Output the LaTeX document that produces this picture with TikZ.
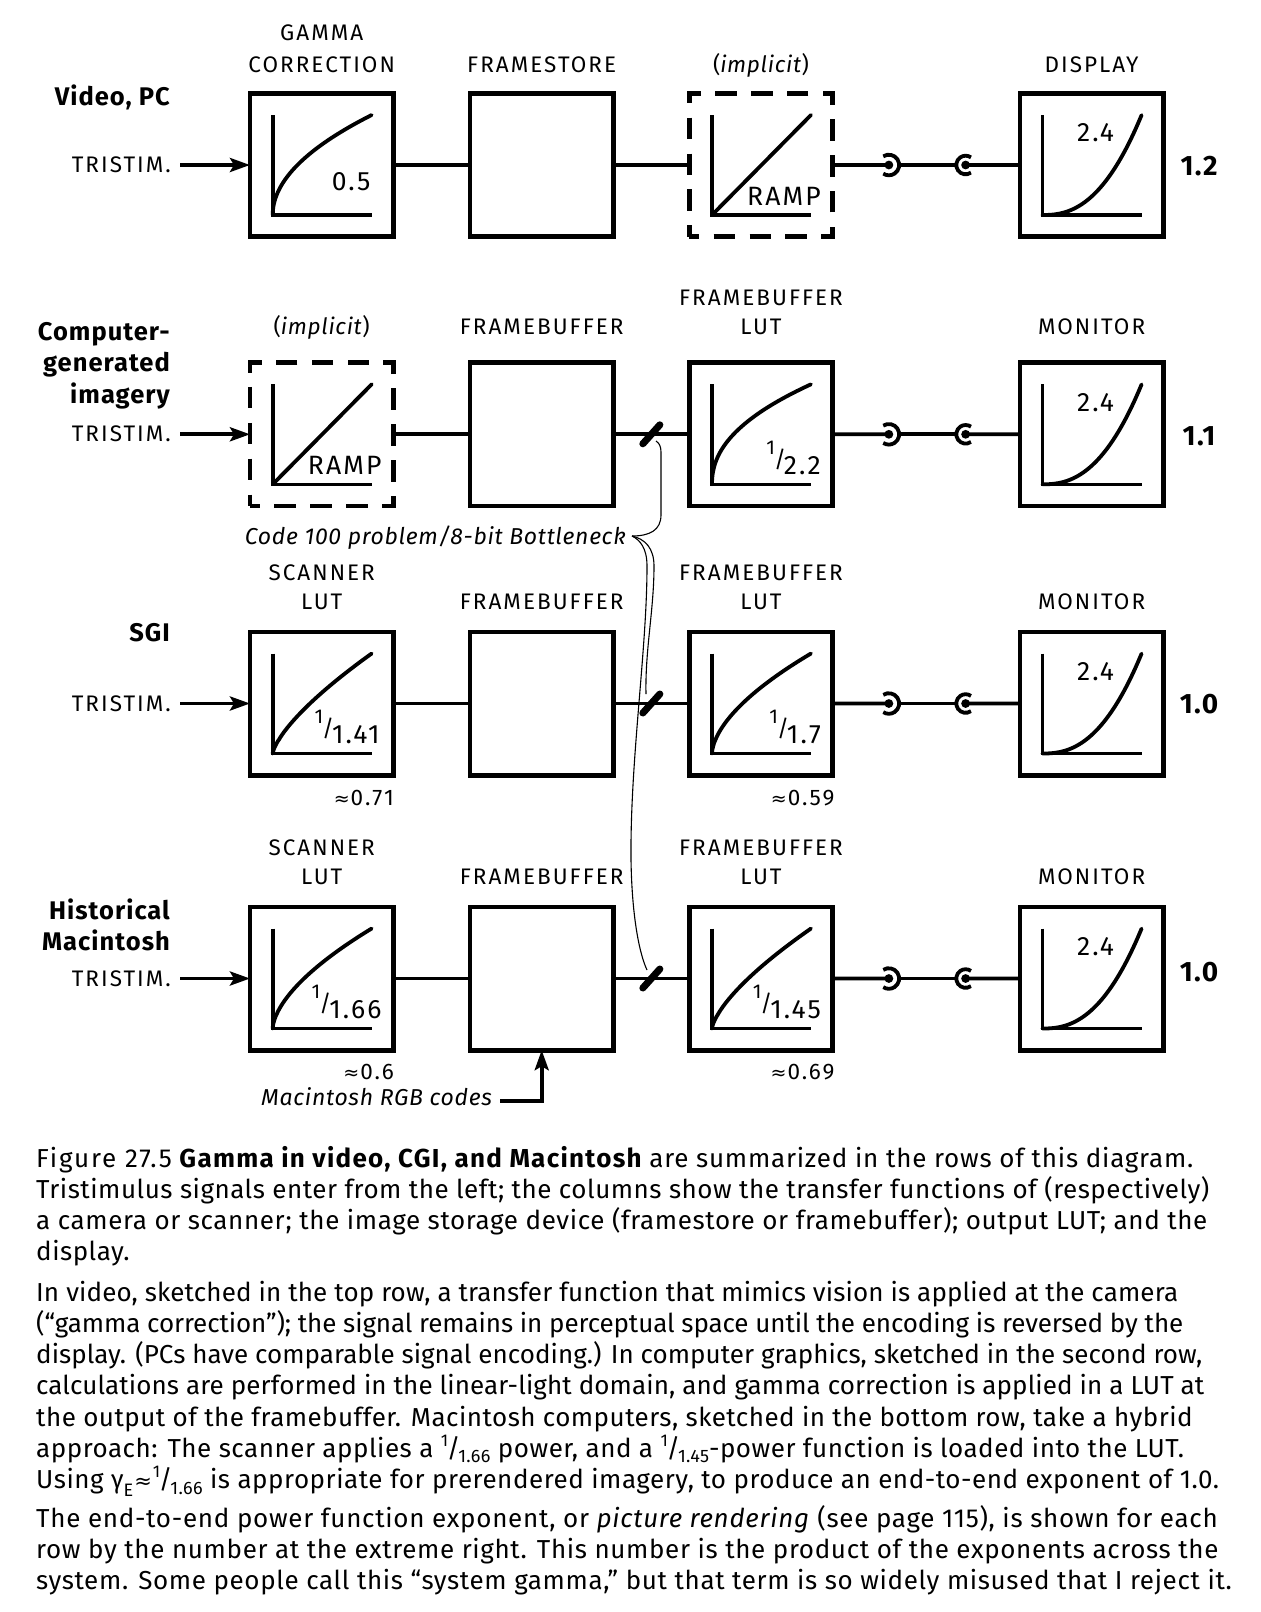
\documentclass[tikz,border=0pt]{standalone}
\usepackage{fontspec}
\setmainfont{Fira Sans}
\newfontfamily\symfont{DejaVu Sans}
\usetikzlibrary{arrows.meta,calc}
\newcommand*\xcA{321.7}
\newcommand*\xcB{541.7}
\newcommand*\xcC{761}
\newcommand*\xcD{1091.6}
\newcommand*\yrA{165}
\newcommand*\yrB{434.3}
\newcommand*\yrC{703.5}
\newcommand*\yrD{978.5}
\newcommand\boxfrac[2]{\raisebox{20pt}{\fontsize{20}{20}\selectfont #1}\kern-1pt\raisebox{7pt}{\fontsize{23}{23}\selectfont /}\kern-2pt{#2}}
\newcommand\tfr[2]{\raisebox{.42em}{\fontsize{17}{17}\selectfont #1}\kern-.05em/\kern-.08em\raisebox{-.2em}{\fontsize{18}{18}\selectfont #2}}
\newcommand\apx{{\symfont\fontsize{19}{19}\selectfont ≈}\kern1pt}
\newcommand\imp{{\addfontfeatures{LetterSpace=3}(\textit{implicit})}}
\newcommand\rootcurve[1]{\draw[crv] (-49,50) -- plot[domain=0.003:1,samples=60,smooth] ({-49+99*pow(\x,#1)},{50-100*\x});}
\newcommand\powcurve[1]{\draw[crv] (-49,50) -- plot[domain=0.003:1,samples=60,smooth] ({-49+99*\x},{50-100*pow(\x,#1)});}
\newcommand\axes{\draw[ax] (-49,-50) -- (-49,50) -- (50,50);}
\begin{document}
\begin{tikzpicture}[x=1pt,y=-1pt,
 box/.style={draw, line width=4.6pt, minimum width=143.4pt, minimum height=143.4pt, inner sep=0pt, outer sep=0pt},
 dbox/.style={box, dash pattern=on 21.5pt off 14.35pt, dash phase=11.5pt},
 conn/.style={line width=3.8pt},
 ax/.style={line width=3.6pt},
 crv/.style={line width=3.8pt, line cap=round},
 lab/.style={font=\fontsize{22.5}{27}\selectfont\addfontfeatures{LetterSpace=9}, inner sep=0pt, anchor=base},
 inb/.style={font=\fontsize{26.5}{30}\selectfont\addfontfeatures{LetterSpace=8}, inner sep=0pt},
 rowlab/.style={font=\fontsize{25.5}{30}\selectfont\bfseries\addfontfeatures{LetterSpace=4}, inner sep=0pt, anchor=base east},
 res/.style={font=\fontsize{28}{30}\selectfont\bfseries\addfontfeatures{LetterSpace=5}, inner sep=0pt, anchor=base},
 itlab/.style={font=\fontsize{23}{27}\selectfont\itshape\addfontfeatures{LetterSpace=3}, inner sep=0pt},
 captxt/.style={font=\fontsize{26}{31}\selectfont\addfontfeatures{LetterSpace=#1}, inner sep=0pt, anchor=base west},
 captxt/.default=2,
 arr/.style={conn, -{Stealth[length=20pt,width=14pt,inset=4pt]}},
 tickmark/.style={line width=7pt, line cap=round},
 thinline/.style={line width=1.1pt},
]
\fill[white] (0,0) rectangle (1261,1612);
\useasboundingbox (0,0) rectangle (1261,1612);

% ---------- boxes ----------
\node[box]  (b11) at (\xcA,\yrA) {};
\node[box]  (b12) at (\xcB,\yrA) {};
\node[dbox] (b13) at (\xcC,\yrA) {};
\node[box]  (b14) at (\xcD,\yrA) {};
\node[dbox] (b21) at (\xcA,\yrB) {};
\node[box]  (b22) at (\xcB,\yrB) {};
\node[box]  (b23) at (\xcC,\yrB) {};
\node[box]  (b24) at (\xcD,\yrB) {};
\node[box]  (b31) at (\xcA,\yrC) {};
\node[box]  (b32) at (\xcB,\yrC) {};
\node[box]  (b33) at (\xcC,\yrC) {};
\node[box]  (b34) at (\xcD,\yrC) {};
\node[box]  (b41) at (\xcA,\yrD) {};
\node[box]  (b42) at (\xcB,\yrD) {};
\node[box]  (b43) at (\xcC,\yrD) {};
\node[box]  (b44) at (\xcD,\yrD) {};

% ---------- box contents ----------
\begin{scope}[shift={(b11.center)}]\axes\rootcurve{2}
 \node[inb,anchor=base east] (v11) at (49,25) {0.5};\end{scope}
\begin{scope}[shift={(b13.center)}]\axes\draw[crv] (-49,50) -- (50,-50);
 \node[inb,anchor=base] (v13) at (23,40) {RAMP};\end{scope}
\begin{scope}[shift={(b21.center)}]\axes\draw[crv] (-49,50) -- (50,-50);
 \node[inb,anchor=base] (v21) at (23,40) {RAMP};\end{scope}
\begin{scope}[shift={(b23.center)}]\axes\rootcurve{2.2}
 \node[inb,anchor=base east] (v23) at (60,40) {\boxfrac{1}{2.2}};\end{scope}
\begin{scope}[shift={(b31.center)}]\axes\rootcurve{1.41}
 \node[inb,anchor=base east] (v31) at (58,40) {\boxfrac{1}{1.41}};\end{scope}
\begin{scope}[shift={(b33.center)}]\axes\rootcurve{1.7}
 \node[inb,anchor=base east] (v33) at (60,40) {\boxfrac{1}{1.7}};\end{scope}
\begin{scope}[shift={(b41.center)}]\axes\rootcurve{1.66}
 \node[inb,anchor=base east] (v41) at (60,40) {\boxfrac{1}{1.66}};\end{scope}
\begin{scope}[shift={(b43.center)}]\axes\rootcurve{1.45}
 \node[inb,anchor=base east] (v43) at (60,40) {\boxfrac{1}{1.45}};\end{scope}
\foreach \r in {1,2,3,4}{
 \begin{scope}[shift={(b\r4.center)}]\axes\powcurve{2.4}
 \node[inb,anchor=base] (v\r4) at (4,-23.3) {2.4};\end{scope}}

% ---------- column labels ----------
\node[lab] (l11a) at (\xcA,40.5) {GAMMA};
\node[lab] (l11b) at (\xcA,72) {CORRECTION};
\node[lab] (l12) at (\xcB,72) {FRAMESTORE};
\node[lab] (l13) at (\xcC,72) {\imp};
\node[lab] (l14) at (\xcD,72) {DISPLAY};
\node[lab] (l21) at (\xcA,334.5) {\imp};
\node[lab] (l22) at (\xcB,334.5) {FRAMEBUFFER};
\node[lab] (l23a) at (\xcC,305.5) {FRAMEBUFFER};
\node[lab] (l23b) at (\xcC,334.5) {LUT};
\node[lab] (l24) at (\xcD,334.5) {MONITOR};
\node[lab] (l31a) at (\xcA,580.5) {SCANNER};
\node[lab] (l31b) at (\xcA,609) {LUT};
\node[lab] (l32) at (\xcB,609) {FRAMEBUFFER};
\node[lab] (l33a) at (\xcC,580.5) {FRAMEBUFFER};
\node[lab] (l33b) at (\xcC,609) {LUT};
\node[lab] (l34) at (\xcD,609) {MONITOR};
\node[lab] (l41a) at (\xcA,855.5) {SCANNER};
\node[lab] (l41b) at (\xcA,884.5) {LUT};
\node[lab] (l42) at (\xcB,884.5) {FRAMEBUFFER};
\node[lab] (l43a) at (\xcC,855.5) {FRAMEBUFFER};
\node[lab] (l43b) at (\xcC,884.5) {LUT};
\node[lab] (l44) at (\xcD,884.5) {MONITOR};

% ---------- row labels ----------
\node[rowlab] (rl1) at (170,105.5) {Video, PC};
\node[rowlab] (rl2a) at (170,340.7) {Computer-};
\node[rowlab] (rl2b) at (170,371.7) {generated};
\node[rowlab] (rl2c) at (170,403.3) {imagery};
\node[rowlab] (rl3) at (170,641.7) {SGI};
\node[rowlab] (rl4a) at (170,919.3) {Historical};
\node[rowlab] (rl4b) at (170,950.7) {Macintosh};
\node[lab,anchor=base east] (tr1) at (171,\yrA+7.5) {TRISTIM.};
\node[lab,anchor=base east] (tr2) at (171,\yrB+7.5) {TRISTIM.};
\node[lab,anchor=base east] (tr3) at (171,\yrC+7.5) {TRISTIM.};
\node[lab,anchor=base east] (tr4) at (171,\yrD+7.5) {TRISTIM.};

% ---------- results ----------
\node[res] (e1) at (1199,175) {1.2};
\node[res] (e2) at (1199,445) {1.1};
\node[res] (e3) at (1199,713.3) {1.0};
\node[res] (e4) at (1199,981.7) {1.0};

% ---------- approx values ----------
\node[lab,anchor=base east] (a31) at (394,805) {\apx0.71};
\node[lab,anchor=base east] (a33) at (834.7,805) {\apx0.59};
\node[lab,anchor=base east] (a41) at (394,1079.3) {\apx0.6};
\node[lab,anchor=base east] (a43) at (834.7,1079.3) {\apx0.69};

% ---------- connections ----------
\foreach \r in {1,2,3,4}{
 \draw[arr] ($(tr\r.east |- b\r1.west)+(9,0)$) -- (b\r1.west);
 \draw[conn] (b\r1.east) -- (b\r2.west);
 \draw[conn] (b\r2.east) -- (b\r3.west);
 \coordinate (p\r a) at ($(b\r3.east)!0.3!(b\r4.west)$);
 \coordinate (p\r b) at ($(b\r3.east)!0.71!(b\r4.west)$);
 \draw[conn] (b\r3.east) -- (p\r a);
 \fill (p\r a) circle (4.4);
 \draw[conn] ([shift={(-123:10.3)}]p\r a) arc[start angle=-123, end angle=123, radius=10.3];
 \draw[conn] ([xshift=10.3pt]p\r a) -- ([xshift=-9.3pt]p\r b);
 \fill (p\r b) circle (4.4);
 \draw[conn] ([shift={(55:9.3)}]p\r b) arc[start angle=55, end angle=305, radius=9.3];
 \draw[conn] (p\r b) -- (b\r4.west);
}
\foreach \r in {2,3,4}{
 \coordinate (t\r) at ($(b\r2.east)!0.5!(b\r3.west)$);
 \draw[tickmark] ($(t\r)+(-8.5,9.5)$) -- ($(t\r)+(8.5,-9.5)$);
}

% ---------- bottleneck note ----------
\node[itlab,anchor=base east] (code) at (626,544) {Code 100 problem/8-bit Bottleneck};
\coordinate (tip) at (632,536);
\draw[thinline] (tip) .. controls (650,536) and (661,530) .. (661,515) -- (661,452) .. controls (661,446) and (659,443) .. (656,441);
\draw[thinline] (tip) .. controls (645,539) and (654,548) .. (654,566) .. controls (654,610) and (645,650) .. (646,694);
\draw[thinline] (tip) .. controls (640,540) and (647,548) .. (647,566) .. controls (647,650) and (630,760) .. (631,860) .. controls (632,920) and (640,955) .. (647,970);

% ---------- Macintosh RGB codes ----------
\node[itlab,anchor=base west] (mac) at (261,1105) {Macintosh RGB codes};
\draw[arr] ($(mac.base east)+(8,-4.3)$) -| (b42.south);

% ---------- caption ----------
\node[captxt=3] (c1) at (36,1167) {{\addfontfeatures{LetterSpace=7}Figure 27.5} {\bfseries\addfontfeatures{LetterSpace=5}Gamma in video, CGI, and Macintosh} are summarized in the rows of this diagram.};
\node[captxt] (c2) at (36,1198.3) {Tristimulus signals enter from the left; the columns show the transfer functions of (respectively)};
\node[captxt=2.4] (c3) at (36,1229.6) {a camera or scanner; the image storage device (framestore or framebuffer); output LUT; and the};
\node[captxt] (c4) at (36,1260.9) {display.};
\node[captxt=0.5] (c5) at (36,1301) {In video, sketched in the top row, a transfer function that mimics vision is applied at the camera};
\node[captxt=-0.4] (c6) at (36,1332.3) {(“gamma correction”); the signal remains in perceptual space until the encoding is reversed by the};
\node[captxt=0.15] (c7) at (36,1363.6) {display. (PCs have comparable signal encoding.) In computer graphics, sketched in the second row,};
\node[captxt=0.4] (c8) at (36,1394.9) {calculations are performed in the linear-light domain, and gamma correction is applied in a LUT at};
\node[captxt=1.8] (c9) at (36,1426.2) {the output of the framebuffer. Macintosh computers, sketched in the bottom row, take a hybrid};
\node[captxt] (c10) at (36,1457.5) {approach: The scanner applies a \tfr{1}{1.66} power, and a \tfr{1}{1.45}-power function is loaded into the LUT.};
\node[captxt=2.1] (c11) at (36,1488.8) {Using γ\raisebox{-.3em}{\fontsize{18}{18}\selectfont E}\kern1pt{\symfont\fontsize{21}{21}\selectfont ≈}\kern1pt\tfr{1}{1.66} is appropriate for prerendered imagery, to produce an end-to-end exponent of 1.0.};
\node[captxt=2.75] (c12) at (36,1527) {The end-to-end power function exponent, or \textit{picture rendering} (see page 115), is shown for each};
\node[captxt=2.5] (c13) at (36,1558.3) {row by the number at the extreme right. This number is the product of the exponents across the};
\node[captxt=2.5] (c14) at (36,1589.6) {system. Some people call this “system gamma,” but that term is so widely misused that I reject it.};
\end{tikzpicture}
\end{document}
